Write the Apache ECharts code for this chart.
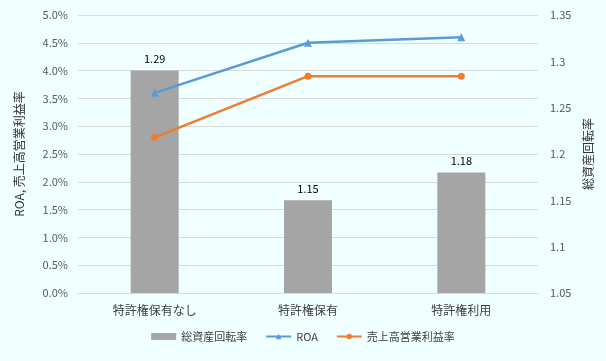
<!DOCTYPE html>
<html><head><meta charset="utf-8">
<script src="https://cdn.jsdelivr.net/npm/echarts@6/dist/echarts.min.js"></script>
<style>html,body{margin:0;padding:0;background:#F0FFFF;}#c{width:606px;height:361px;}</style>
</head><body><div id="c"></div>
<script>
const categories = ['特許権保有なし', '特許権保有', '特許権利用'];
const assetTurnover = [1.29, 1.15, 1.18];
const roa = [3.6, 4.5, 4.6];
const operatingMargin = [2.8, 3.9, 3.9];
const seriesNames = ['総資産回転率', 'ROA', '売上高営業利益率'];
const leftAxisName = 'ROA, 売上高営業利益率';
const rightAxisName = '総資産回転率';

const FONT = '"Noto Sans CJK JP", "Noto Sans", sans-serif';
const chart = echarts.init(document.getElementById('c'));
chart.setOption({
  backgroundColor: '#F0FFFF',
  textStyle: { fontFamily: FONT },
  animation: false,
  grid: { left: 78, right: 68, top: 15, bottom: 68 },
  legend: {
    bottom: 14, left: 'center', itemGap: 18, itemWidth: 25, itemHeight: 7,
    textStyle: { fontFamily: FONT, fontSize: 11, color: '#404040' },
    data: [
      { name: seriesNames[0], icon: 'rect' },
      { name: seriesNames[1] },
      { name: seriesNames[2] }
    ]
  },
  xAxis: {
    type: 'category', data: categories,
    axisLine: { lineStyle: { color: '#d9d9d9' } },
    axisTick: { show: false },
    axisLabel: { color: '#404040', fontSize: 12, margin: 11, fontFamily: FONT }
  },
  yAxis: [
    {
      type: 'value', min: 0, max: 5, interval: 0.5,
      name: leftAxisName, nameLocation: 'middle', nameGap: 53, nameRotate: 90,
      nameTextStyle: { color: '#333', fontSize: 12, fontFamily: FONT },
      axisLabel: { color: '#595959', fontSize: 11, margin: 10, formatter: v => v.toFixed(1) + '%' },
      axisLine: { show: false }, axisTick: { show: false },
      splitLine: { lineStyle: { color: '#d9d9d9' } }
    },
    {
      type: 'value', min: 1.05, max: 1.35, interval: 0.05,
      name: rightAxisName, nameLocation: 'middle', nameGap: 37, nameRotate: 90,
      nameTextStyle: { color: '#333', fontSize: 12, fontFamily: FONT },
      axisLabel: { color: '#595959', fontSize: 11, margin: 12, formatter: v => String(parseFloat(v.toFixed(2))) },
      axisLine: { show: false }, axisTick: { show: false },
      splitLine: { show: false }
    }
  ],
  series: [
    {
      name: seriesNames[0], type: 'bar', yAxisIndex: 1, data: assetTurnover,
      barWidth: 48, itemStyle: { color: '#A5A5A5' },
      label: { show: true, position: 'top', distance: 6, color: '#000', fontSize: 11, formatter: p => p.value.toFixed(2) }
    },
    {
      name: seriesNames[1], type: 'line', yAxisIndex: 0, data: roa,
      symbol: 'triangle', symbolSize: 8,
      lineStyle: { color: '#5B9BD5', width: 2.5 }, itemStyle: { color: '#5B9BD5' }
    },
    {
      name: seriesNames[2], type: 'line', yAxisIndex: 0, data: operatingMargin,
      symbol: 'circle', symbolSize: 7,
      lineStyle: { color: '#ED7D31', width: 2.5 }, itemStyle: { color: '#ED7D31' }
    }
  ]
});
</script></body></html>
